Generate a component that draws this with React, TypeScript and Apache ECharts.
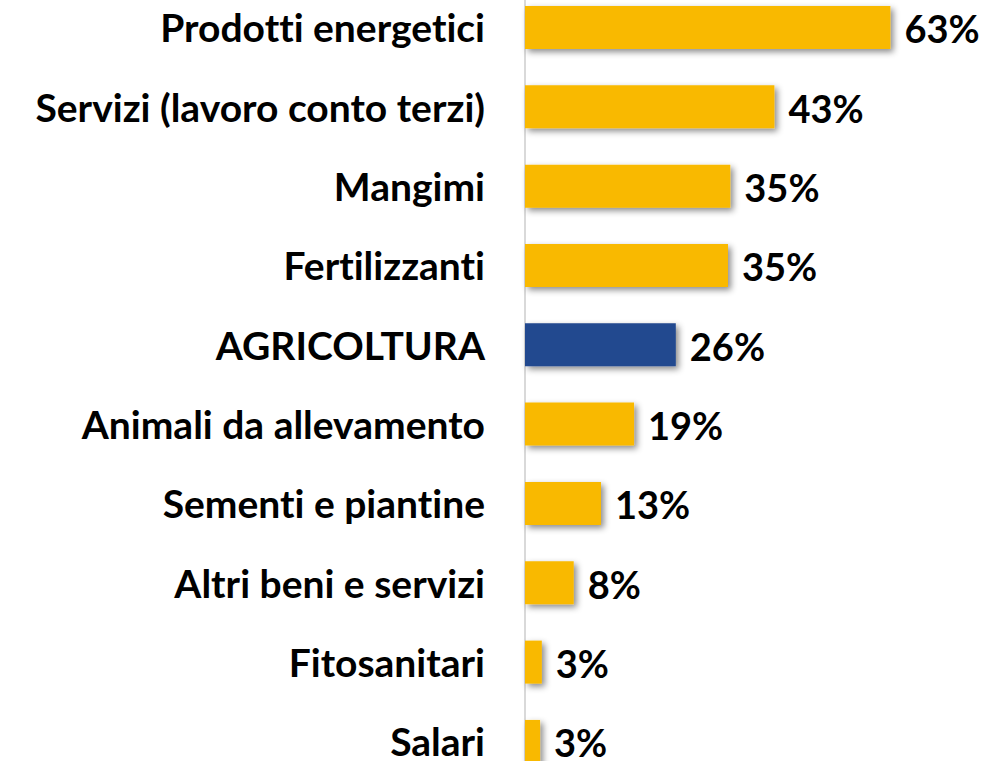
import React, { useEffect, useRef } from "react";
import * as echarts from "echarts";

const categories = [
  "Prodotti energetici",
  "Servizi (lavoro conto terzi)",
  "Mangimi",
  "Fertilizzanti",
  "AGRICOLTURA",
  "Animali da allevamento",
  "Sementi e piantine",
  "Altri beni e servizi",
  "Fitosanitari",
  "Salari",
];
const values = [63, 43, 35.4, 35, 26, 18.8, 13.1, 8.4, 2.9, 2.6];
const valueLabels = ["63%", "43%", "35%", "35%", "26%", "19%", "13%", "8%", "3%", "3%"];
const highlight = "AGRICOLTURA";

const YELLOW = "#F9B900";
const BLUE = "#23488F";
const FONT = "Lato, 'Open Sans', sans-serif";

export default function App() {
  const ref = useRef<HTMLDivElement>(null);
  useEffect(() => {
    if (!ref.current) return;
    const chart = echarts.init(ref.current, undefined, { renderer: "svg" });
    chart.setOption({
      animation: false,
      grid: { left: 525, width: 464, top: 20.8, height: 793.3, containLabel: false },
      xAxis: { type: "value", min: 0, max: 80, show: false },
      yAxis: {
        type: "category",
        data: categories,
        inverse: true,
        axisLine: { show: true, lineStyle: { color: "#d9d9d9", width: 2 } },
        axisTick: { show: false },
        axisLabel: {
          margin: 40,
          color: "#000",
          fontFamily: FONT,
          fontWeight: "bold",
          fontSize: 39,
        },
      },
      series: [
        {
          type: "bar",
          barWidth: 43,
          data: values.map((v, i) => ({
            value: v,
            itemStyle: {
              color: categories[i] === highlight ? BLUE : YELLOW,
            },
          })),
          itemStyle: {
            shadowColor: "rgba(0,0,0,0.45)",
            shadowBlur: 6,
            shadowOffsetX: 3,
            shadowOffsetY: 3,
          },
          label: {
            show: true,
            position: "right",
            distance: 14,
            formatter: (p: any) => valueLabels[p.dataIndex],
            color: "#000",
            fontFamily: FONT,
            fontWeight: "bold",
            fontSize: 38,
            offset: [0, 1],
          },
        },
      ],
    });
    return () => chart.dispose();
  }, []);
  return (
    <div
      style={{
        position: "absolute",
        left: 0,
        top: 0,
        width: 1007,
        height: 761,
        overflow: "hidden",
      }}
    >
      <style>{"svg text { font-variant-ligatures: none; font-feature-settings: 'liga' 0; }"}</style>
      <div
        ref={ref}
        style={{ position: "absolute", left: 0, top: -33, width: 1007, height: 840 }}
      />
    </div>
  );
}
